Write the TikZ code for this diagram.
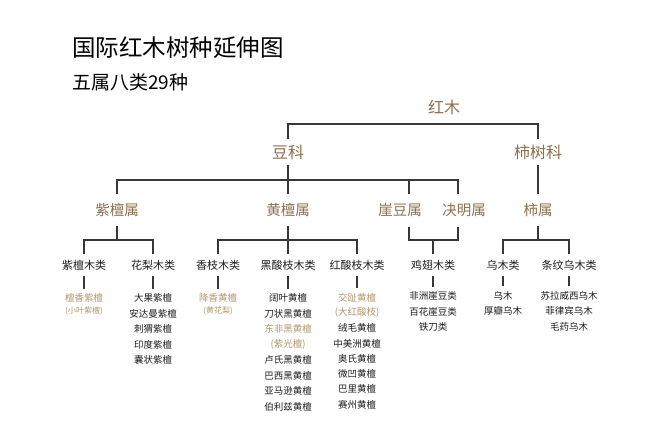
\documentclass[tikz,border=0pt]{standalone}
\usepackage{fontspec}
\setmainfont{Noto Sans CJK SC}
\definecolor{hdr}{RGB}{140,113,78}
\definecolor{lgold}{RGB}{178,152,110}
\definecolor{ink}{RGB}{30,30,30}
\definecolor{wire}{RGB}{55,55,55}
\tikzset{
  ttl/.style={anchor=west,inner sep=0,text=black,font=\fontsize{23.5}{24}\selectfont},
  subttl/.style={anchor=west,inner sep=0,text=black,font=\fontsize{19}{20}\selectfont},
  fam/.style={text=hdr,inner xsep=0,inner ysep=5pt,font=\fontsize{16}{16}\selectfont},
  gen/.style={text=hdr,inner xsep=0,inner ysep=9pt,font=\fontsize{14.5}{15}\selectfont},
  cls/.style={text=ink,inner xsep=0,inner ysep=6pt,font=\fontsize{11}{11}\selectfont},
  sp/.style={text=ink,inner xsep=0,inner ysep=4.5pt,font=\fontsize{9.5}{10}\selectfont},
  spg/.style={sp,text=lgold},
  spn/.style={text=lgold,inner sep=0,font=\fontsize{8}{8}\selectfont},
  conn/.style={draw=wire,line width=1.3pt}
}
\begin{document}
\begin{tikzpicture}[x=1pt,y=-1pt]
\useasboundingbox[fill=white] (0,0) rectangle (660,440);
% titles
\node[ttl] (title) at (72,48) {国际红木树种延伸图};
\node[subttl] (sub) at (72,82) {五属八类29种};
% level 1, 2
\node[fam,inner ysep=0] (hm) at (444,107) {红木};
\node[fam] (dou) at (288,152) {豆科};
\node[fam] (shike) at (538,152) {柿树科};
% genera
\node[gen] (zts) at (117,210) {紫檀属};
\node[gen] (hts) at (288,210) {黄檀属};
\node[gen] (yds) at (400,210) {崖豆属};
\node[gen] (jms) at (464,210) {决明属};
\node[gen] (ss) at (538,210) {柿属};
\coordinate (ydt) at (409,193.5);
\coordinate (jmt) at (458,193.5);
\coordinate (ydb) at (409,226.5);
\coordinate (jmb) at (458,226.5);
% classes
\node[cls] (c1) at (84,265) {紫檀木类};
\node[cls] (c2) at (153,265) {花梨木类};
\node[cls] (c3) at (218,265) {香枝木类};
\node[cls] (c4) at (288,265) {黑酸枝木类};
\node[cls] (c5) at (357,265) {红酸枝木类};
\node[cls] (c6) at (433,265) {鸡翅木类};
\node[cls] (c7) at (503,265) {乌木类};
\node[cls] (c8) at (569,265) {条纹乌木类};
% bars
\coordinate (b1) at (444,124);
\coordinate (b2) at (288,180);
\coordinate (b3) at (288,240);
\draw[conn] (dou.north) -- (dou.north |- b1) -- (shike.north |- b1) -- (shike.north);
\draw[conn] (dou.south) -- (hts.north);
\draw[conn] (zts.north) -- (zts.north |- b2) -- (jmt |- b2) -- (jmt);
\draw[conn] (ydt) -- (ydt |- b2);
\draw[conn] (shike.south) -- (ss.north);
\draw[conn] (zts.south) -- (zts.south |- b3);
\draw[conn] (c1.north) -- (c1.north |- b3) -- (c2.north |- b3) -- (c2.north);
\draw[conn] (hts.south) -- (c4.north);
\draw[conn] (c3.north) -- (c3.north |- b3) -- (c5.north |- b3) -- (c5.north);
\draw[conn] (ydb) -- (ydb |- b3) -- (jmb |- b3) -- (jmb);
\draw[conn] (c6.north) -- (c6.north |- b3);
\draw[conn] (ss.south) -- (ss.south |- b3);
\draw[conn] (c7.north) -- (c7.north |- b3) -- (c8.north |- b3) -- (c8.north);
% species
\node[spg] (s1a) at (84,298) {檀香紫檀};
\node[spn] (s1b) at (84,311) {(小叶紫檀)};
\node[sp] (s2a) at (153,298) {大果紫檀};
\node[sp] (s2b) at (153,313.5) {安达曼紫檀};
\node[sp] (s2c) at (153,329) {刺猬紫檀};
\node[sp] (s2d) at (153,344.5) {印度紫檀};
\node[sp] (s2e) at (153,360) {囊状紫檀};
\node[spg] (s3a) at (218,298) {降香黄檀};
\node[spn] (s3b) at (218,311) {(黄花梨)};
\node[sp] (s4a) at (288,298) {阔叶黄檀};
\node[sp] (s4b) at (288,313.5) {刀状黑黄檀};
\node[spg] (s4c) at (288,329) {东非黑黄檀};
\node[spg] (s4d) at (288,344.5) {(紫光檀)};
\node[sp] (s4e) at (288,360) {卢氏黑黄檀};
\node[sp] (s4f) at (288,375.5) {巴西黑黄檀};
\node[sp] (s4g) at (288,391) {亚马逊黄檀};
\node[sp] (s4h) at (288,406.5) {伯利兹黄檀};
\node[spg] (s5a) at (357,297.5) {交趾黄檀};
\node[spg] (s5b) at (357,312.8) {(大红酸枝)};
\node[sp] (s5c) at (357,328.1) {绒毛黄檀};
\node[sp] (s5d) at (357,343.4) {中美洲黄檀};
\node[sp] (s5e) at (357,358.7) {奥氏黄檀};
\node[sp] (s5f) at (357,374) {微凹黄檀};
\node[sp] (s5g) at (357,389.3) {巴里黄檀};
\node[sp] (s5h) at (357,404.6) {赛州黄檀};
\node[sp] (s6a) at (433,296) {非洲崖豆类};
\node[sp] (s6b) at (433,311.5) {百花崖豆类};
\node[sp] (s6c) at (433,327) {铁刀类};
\node[sp] (s7a) at (503,295.5) {乌木};
\node[sp] (s7b) at (503,311) {厚瓣乌木};
\node[sp] (s8a) at (569,295.5) {苏拉威西乌木};
\node[sp] (s8b) at (569,311) {菲律宾乌木};
\node[sp] (s8c) at (569,326.5) {毛药乌木};
\draw[conn] (c1.south) -- (s1a.north);
\draw[conn] (c2.south) -- (s2a.north);
\draw[conn] (c3.south) -- (s3a.north);
\draw[conn] (c4.south) -- (s4a.north);
\draw[conn] (c5.south) -- (s5a.north);
\draw[conn] (c6.south) -- (s6a.north);
\draw[conn] (c7.south) -- (s7a.north);
\draw[conn] (c8.south) -- (s8a.north);
\end{tikzpicture}
\end{document}
